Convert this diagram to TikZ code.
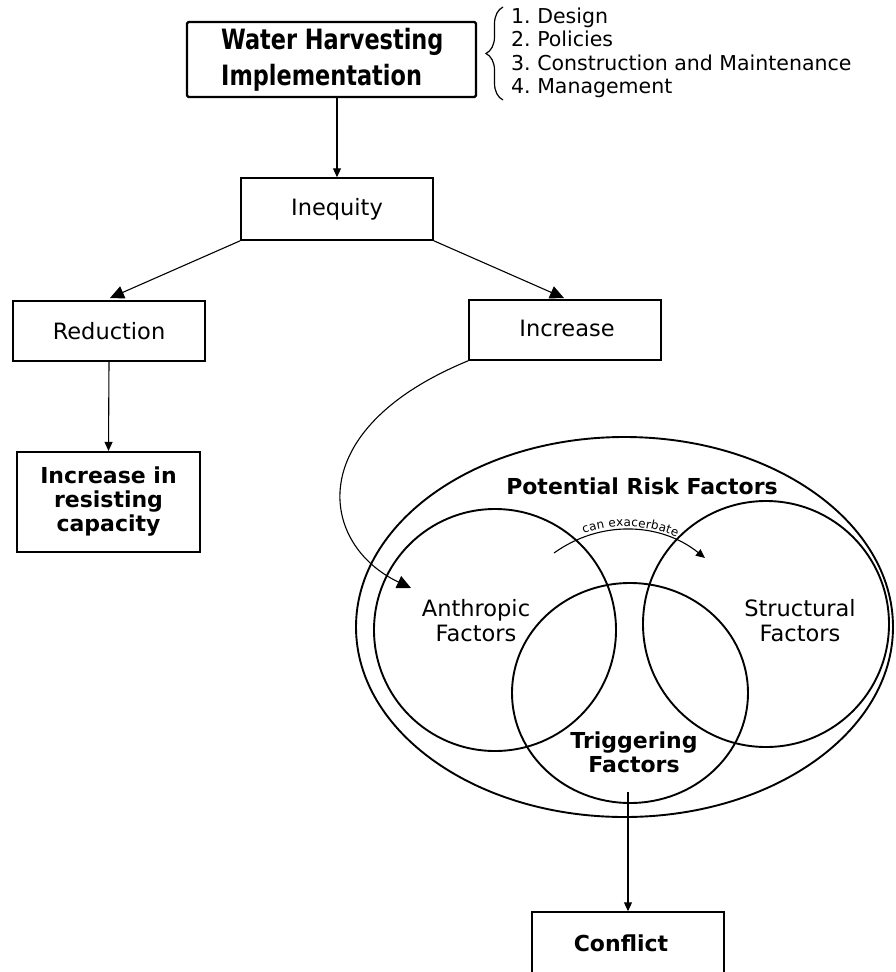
\documentclass[tikz,border=0pt]{standalone}
\usepackage{fontspec}
\setmainfont{DejaVu Sans}
\newfontfamily\condfont[FakeStretch=0.89]{DejaVu Sans Condensed}
\usetikzlibrary{arrows.meta,decorations.pathreplacing,decorations.text}
\frenchspacing
\begin{document}
\begin{tikzpicture}[x=1pt,y=-1pt,
  every node/.style={font=\fontsize{22.5}{25}\selectfont, inner sep=0pt},
  box/.style={draw, line width=1.5pt},
  thickbox/.style={draw, line width=2.2pt},
  conn/.style={line width=1.1pt, -{Triangle[length=14pt,width=13pt]}},
  smallconn/.style={line width=1.1pt, -{Triangle[length=9pt,width=8pt]}},
  ring/.style={draw, line width=1.9pt},
  boldtxt/.style={font=\fontsize{22}{24}\selectfont\bfseries, align=center},
]
\clip (0,0) rectangle (895,972);

% header box and its list
\draw[line width=2.4pt, rounded corners=1.5pt] (187,22) rectangle (476,97);
\node[anchor=west, align=left, font=\fontsize{28}{36}\selectfont\condfont\bfseries] (wh) at (221,59.5) {Water Harvesting\\Implementation};
\coordinate (whb) at (337,97);
\draw[line width=1.2pt, decoration={brace, amplitude=17pt, aspect=0.5}, decorate] (503,100) -- (503,7);
\node[anchor=west, align=left, font=\fontsize{20.5}{23.5}\selectfont] (list) at (511,53) {1. Design\\2. Policies\\3. Construction and Maintenance\\4. Management};

% second level
\node[box, minimum width=192pt, minimum height=62pt] (ineq) at (337,209) {Inequity};
\draw[smallconn] (whb) -- (ineq.north);

\node[box, minimum width=192pt, minimum height=60pt] (red) at (109,331) {Reduction};
\node[box, minimum width=192pt, minimum height=60pt] (inc) at (565,330) {};
\node (inctxt) at (567,328) {Increase};

\draw[conn] (ineq.south west) -- (110,298);
\draw[conn] (ineq.south east) -- (564,298);

\node[thickbox, boldtxt, minimum width=183pt, minimum height=100pt] (res) at (108.5,502) {Increase in\\resisting\\capacity};
\draw[smallconn] (red.south) -- (res.north);

% risk factor diagram
\draw[ring] (624.5,627) ellipse (268.5pt and 190pt);
\node[font=\fontsize{22}{24}\selectfont\bfseries] (prf) at (642,486) {Potential Risk Factors};

\draw[ring] (495,630) circle (121pt);
\draw[ring] (766,624) circle (123pt);
\draw[ring] (630,693) ellipse (118pt and 110pt);

\node[align=center] (anth) at (476,621) {Anthropic\\Factors};
\node[align=center] (struc) at (800,621) {Structural\\Factors};
\node[boldtxt] (trig) at (634,752) {Triggering\\Factors};

\coordinate (anthtip) at (411,588);
\draw[conn] (inc.south west) .. controls (300,430) and (320,545) .. (anthtip);

\coordinate (ca) at (554,553);
\coordinate (cb) at (705,558);
\draw[smallconn] (ca) .. controls (600,520) and (660,522) .. (cb);
\path[decoration={text along path, text align=center, raise=3pt,
  text={|\fontsize{12}{14}\selectfont|can exacerbate}}, decorate]
  (ca) .. controls (600,520) and (660,522) .. (cb);

% outcome
\coordinate (trigb) at (628,792);
\node[box, minimum width=192pt, minimum height=80pt] (conf) at (628,952) {};
\node[font=\fontsize{22}{24}\selectfont\bfseries] (conftxt) at (621,943) {Conflict};
\draw[smallconn] (trigb) -- (conf.north);
\end{tikzpicture}
\end{document}
